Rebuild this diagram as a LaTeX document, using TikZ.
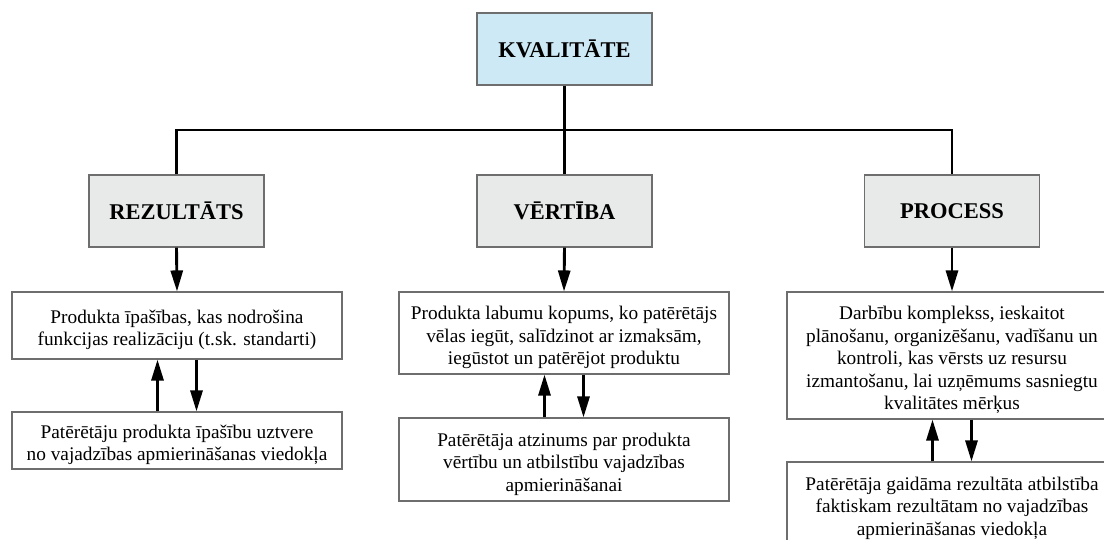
\documentclass[tikz,border=0pt]{standalone}
\usepackage{fontspec}
\setmainfont{Liberation Serif}
\usetikzlibrary{arrows.meta}
\definecolor{topfill}{RGB}{205,233,245}
\definecolor{midfill}{RGB}{232,233,233}
\definecolor{edgegray}{RGB}{110,110,110}
\tikzset{
  head/.style={draw=edgegray, line width=1.1pt, minimum width=175pt, minimum height=72pt,
    inner sep=0pt, font=\fontsize{22.5}{27}\selectfont\bfseries},
  topbox/.style={head, fill=topfill},
  midbox/.style={head, fill=midfill},
  % frame of a description box; its text is set by a separate infotext node
  infobox/.style={draw=edgegray, line width=1.1pt, fill=white, minimum width=330pt,
    inner sep=0pt},
  infotext/.style={inner sep=0pt, align=center, font=\fontsize{19.3}{22.5}\selectfont},
  wire/.style={line width=2.9pt, line join=miter},
  arr/.style={wire, -{Triangle[length=21pt,width=12pt]}}
}
\begin{document}
\begin{tikzpicture}[x=1pt,y=-1pt]
\useasboundingbox (0,0) rectangle (1104,540);
\clip (0,0) rectangle (1104,540);

% top level and the three aspects
\node[topbox] (kval) at (564.5,49) {KVALITĀTE};
\node[midbox] (rez)  at (176.5,211) {REZULTĀTS};
\node[midbox] (vert) at (564.5,211) {VĒRTĪBA};
\node[midbox] (proc) at (952,211) {PROCESS};

% description frames
\node[infobox, minimum height=67pt]  (b1)  at (177,325.5) {};
\node[infobox, minimum height=57pt]  (b1b) at (177,440.5) {};
\node[infobox, minimum height=82pt]  (b2)  at (564,333) {};
\node[infobox, minimum height=83pt]  (b2b) at (564,459.5) {};
\node[infobox, minimum height=127pt] (b3)  at (952,355.5) {};
\node[infobox, minimum height=95pt]  (b3b) at (952,509.5) {};

% description texts
\node[infotext] (b1t) at ([yshift=-4.5pt]b1.center)
  {Produkta īpašības, kas nodrošina\\funkcijas realizāciju (t.sk. standarti)};
\node[infotext] (b1bt) at ([yshift=-4.5pt]b1b.center)
  {Patērētāju produkta īpašību uztvere\\no vajadzības apmierināšanas viedokļa};
\node[infotext] (b2t) at ([yshift=-4.5pt]b2.center)
  {Produkta labumu kopums, ko patērētājs\\vēlas iegūt, salīdzinot ar izmaksām,\\iegūstot un patērējot produktu};
\node[infotext] (b2bt) at ([yshift=-4.5pt]b2b.center)
  {Patērētāja atzinums par produkta\\vērtību un atbilstību vajadzības\\apmierināšanai};
\node[infotext] (b3t) at ([yshift=-4.5pt]b3.center)
  {Darbību komplekss, ieskaitot\\plānošanu, organizēšanu, vadīšanu un\\kontroli, kas vērsts uz resursu\\izmantošanu, lai uzņēmums sasniegtu\\kvalitātes mērķus};
\node[infotext] (b3bt) at ([yshift=1.5pt]b3b.center)
  {Patērētāja gaidāma rezultāta atbilstība\\faktiskam rezultātam no vajadzības\\apmierināšanas viedokļa};

% tree connectors
\coordinate (bus) at (564.5,130);
\draw[wire] (kval.south) -- (vert.north);
\draw[wire] (rez.north) |- (bus) -| (proc.north);

% aspect to description
\draw[arr] (rez.south) -- (b1.north);
\draw[arr] (vert.south) -- (b2.north);
\draw[arr] (proc.south) -- (b3.north);

% two-way links between description pairs
\foreach \u/\l in {b1/b1b, b2/b2b, b3/b3b}{
  \draw[arr] ([xshift=-19.5pt]\l.north) -- ([xshift=-19.5pt]\u.south);
  \draw[arr] ([xshift=19.5pt]\u.south) -- ([xshift=19.5pt]\l.north);
}
\end{tikzpicture}
\end{document}
